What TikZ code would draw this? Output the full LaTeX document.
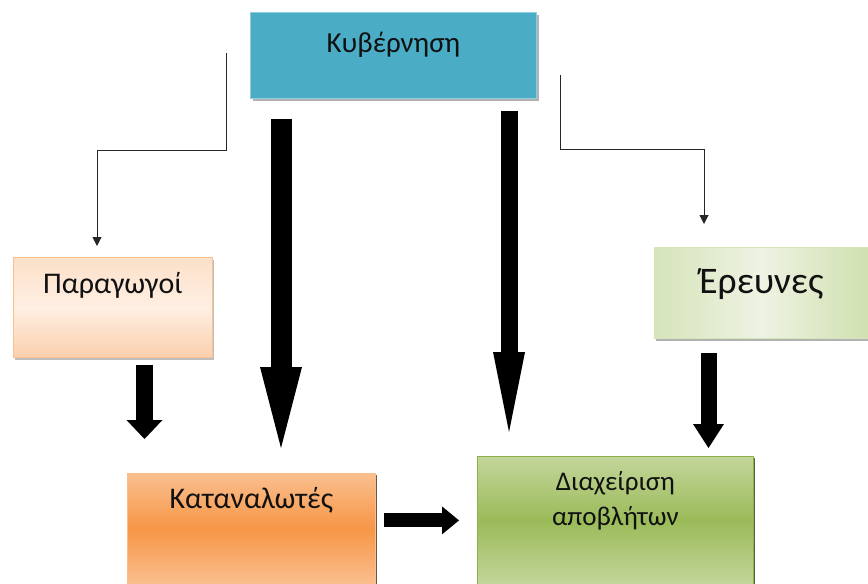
\documentclass[tikz,border=0pt]{standalone}
\usepackage{fontspec}
\setmainfont{Carlito}
\usetikzlibrary{arrows.meta,positioning,calc,shadows}
\definecolor{aqua}{HTML}{4BACC6}
\definecolor{aqualine}{HTML}{8FCCDC}
\definecolor{peachtop}{HTML}{FCE0C8}
\definecolor{peachmid}{HTML}{FEEFE3}
\definecolor{peachbot}{HTML}{FAD0AC}
\definecolor{peachline}{HTML}{F9C090}
\definecolor{orng}{HTML}{F79646}
\definecolor{orngl}{HTML}{FABF8F}
\definecolor{olive}{HTML}{9BBB59}
\definecolor{olivel}{HTML}{C3D69B}
\definecolor{oliveline}{HTML}{8DB04C}
\definecolor{paleA}{HTML}{D6E4BA}
\definecolor{paleB}{HTML}{EEF3E3}
\definecolor{ink}{HTML}{111111}
\tikzset{
  box/.style={rectangle,line width=0.8pt,text=ink,align=center,inner sep=0pt,anchor=north west,
              font=\fontsize{30}{35}\selectfont},
  govb/.style={box,draw=aqualine,fill=aqua,font=\fontsize{29}{35}\selectfont,
               drop shadow={shadow xshift=2.5pt,shadow yshift=-2.5pt,fill=black,opacity=.3}},
  prodb/.style={box,draw=peachline,top color=peachtop,bottom color=peachbot,middle color=peachmid,
               drop shadow={shadow xshift=1.5pt,shadow yshift=-2.5pt,fill=black,opacity=.25}},
  resb/.style={box,draw=paleA,left color=paleA,right color=paleA!90!olive,middle color=paleB,
               font=\fontsize{37.5}{40}\selectfont,
               drop shadow={shadow xshift=1.5pt,shadow yshift=-2.5pt,fill=black,opacity=.3}},
  consb/.style={box,draw=orngl,top color=orngl,bottom color=orngl,middle color=orng,
               drop shadow={shadow xshift=1.5pt,shadow yshift=-1.5pt,fill=black!70!orng,opacity=.8}},
  wasteb/.style={box,draw=oliveline,top color=olivel,bottom color=olivel,middle color=olive,
               font=\fontsize{27}{35}\selectfont,
               drop shadow={shadow xshift=1.5pt,shadow yshift=-1.5pt,fill=black!70!olive,opacity=.8}},
  blk/.style n args={3}{line width=#1,draw=black,-{Triangle[width=#2,length=#3,line width=0pt]}},
  thinarr/.style={-{Triangle[length=9pt,width=9pt]},line width=1pt,draw=black!85},
}
\begin{document}
\begin{tikzpicture}[x=1pt,y=-1pt]
\useasboundingbox[fill=white] (0,0) rectangle (868,584);
\node[govb,minimum width=286pt,text height=40pt,text depth=46pt] (gov) at (250,12) {Κυβέρνηση};
\node[prodb,minimum width=199pt,text height=36pt,text depth=64pt] (prod) at (13,257) {Παραγωγοί};
\node[resb,minimum width=214pt,text height=46pt,text depth=45pt] (res) at (654,247) {Έρευνες};
\node[consb,minimum width=248pt,text height=35pt,text depth=76pt] (cons) at (127,473) {Καταναλωτές};
\node[wasteb,minimum width=276pt,text height=69pt,text depth=59pt] (waste) at (477,456) {Διαχείριση\\αποβλήτων};
% thin elbow connectors from the government box
\draw[thinarr] ($(gov.west)+(-24,-2)$) -- ++(0,97) -| ($(prod.north west)+(84,-11)$);
\draw[thinarr] ($(gov.east)+(24,20)$) -- ++(0,74) -| ($(res.north west)+(50,-23)$);
% block arrows
\draw[blk={21pt}{42pt}{81pt}] ($(gov.south west)+(31,20)$) -- ($(gov.south west |- cons.north)+(31,-25)$);
\draw[blk={17pt}{32pt}{80pt}] ($(gov.south west)+(259,12)$) -- ($(gov.south west |- waste.north)+(259,-24)$);
\draw[blk={17pt}{36pt}{19pt}] ($(prod.south west)+(131.5,7)$) -- ($(prod.south west |- cons.north)+(131.5,-34)$);
\draw[blk={16pt}{31pt}{24pt}] ($(res.south west)+(54.5,14)$) -- ($(res.south west |- waste.north)+(54.5,-8)$);
\draw[blk={14pt}{28pt}{17pt}] ($(cons.east |- waste.west)+(8,0)$) -- ($(waste.west)+(-18,0)$);
\end{tikzpicture}
\end{document}
